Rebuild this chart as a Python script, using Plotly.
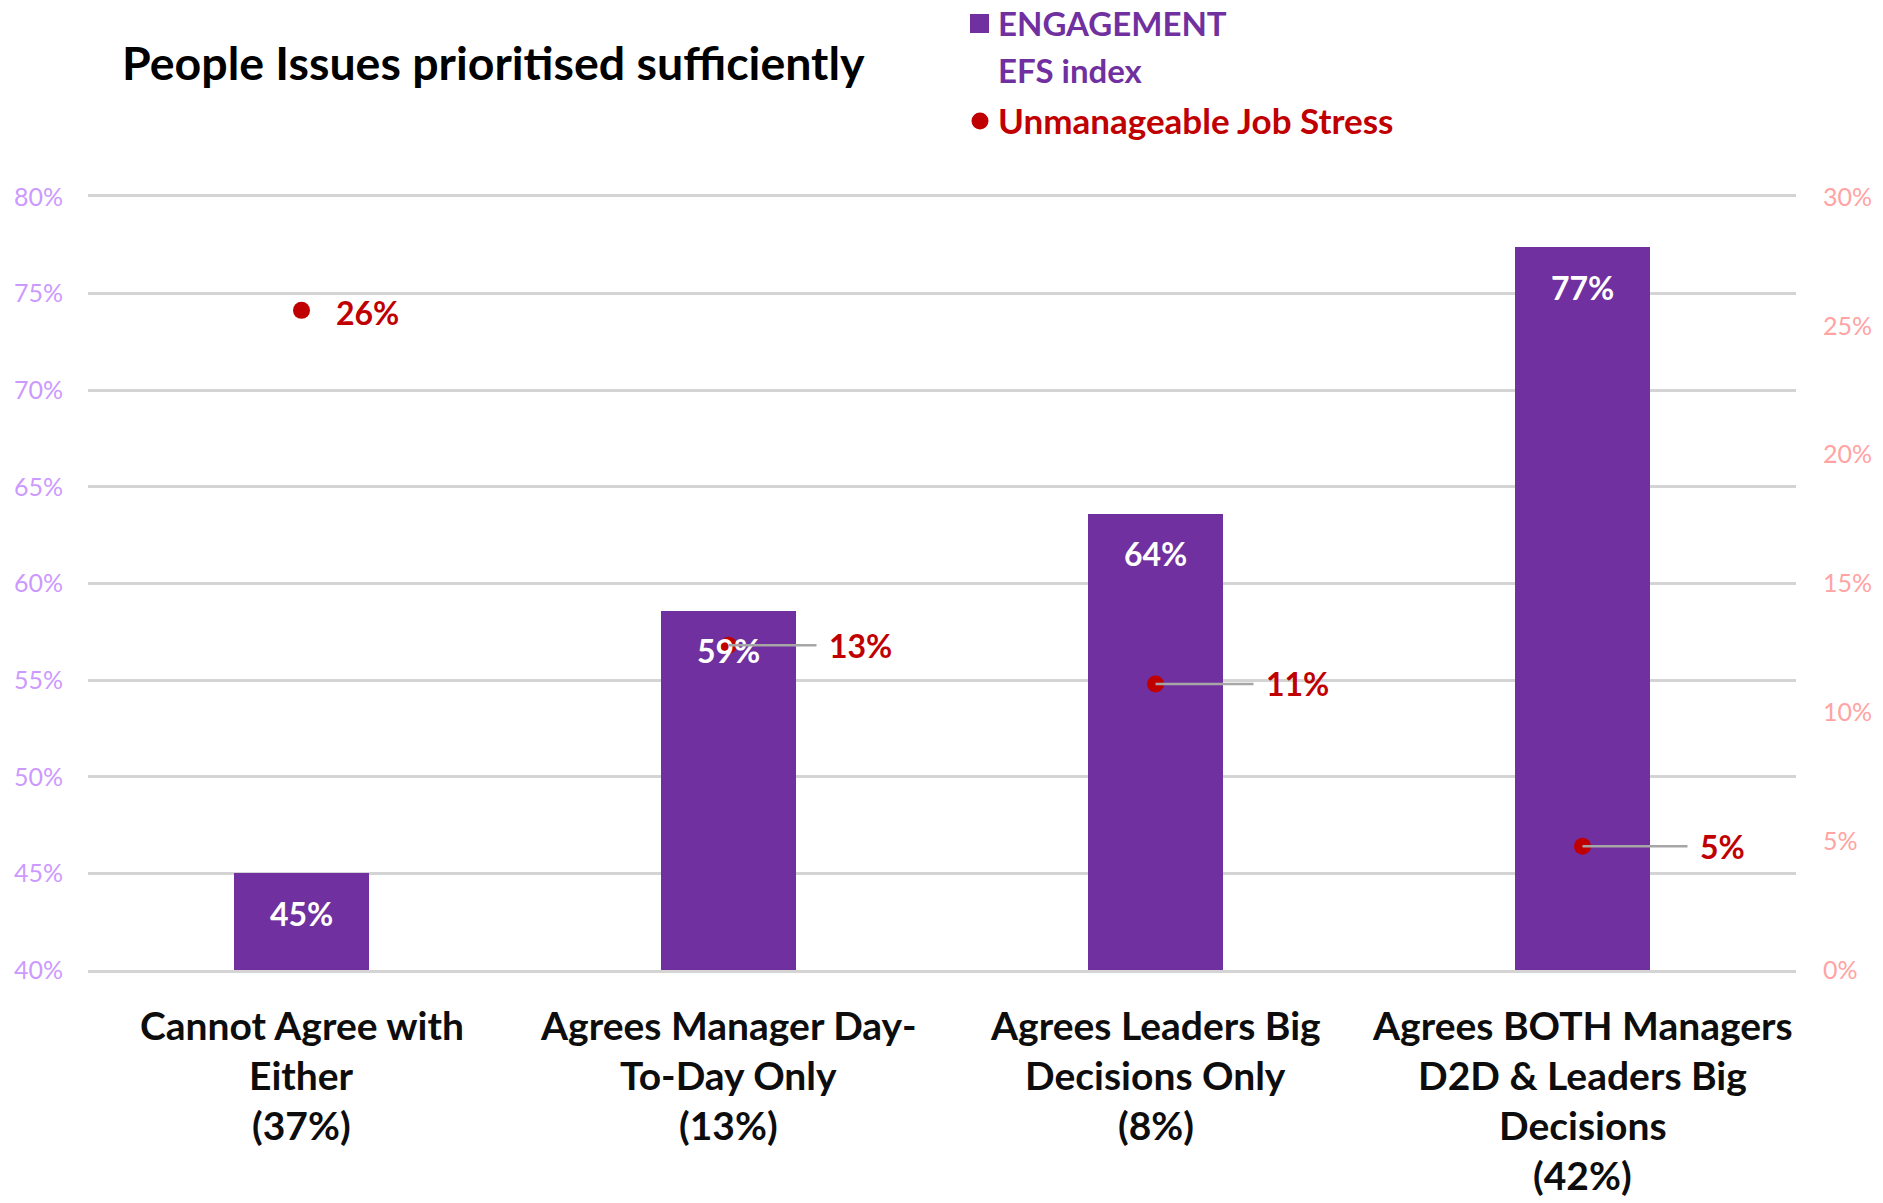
import plotly.graph_objects as go

# ---- data -------------------------------------------------------------
category_lines = [
    ["Cannot Agree with", "Either", "(37%)"],
    ["Agrees Manager Day-", "To-Day Only", "(13%)"],
    ["Agrees Leaders Big", "Decisions Only", "(8%)"],
    ["Agrees BOTH Managers", "D2D & Leaders Big", "Decisions", "(42%)"],
]
engagement_efs = [0.45, 0.586, 0.636, 0.774]          # left axis
unmanageable_stress = [0.256, 0.126, 0.111, 0.048]    # right axis

left_ticks = [0.40, 0.45, 0.50, 0.55, 0.60, 0.65, 0.70, 0.75, 0.80]
right_ticks = [0.00, 0.05, 0.10, 0.15, 0.20, 0.25, 0.30]

title_text = "People Issues prioritised sufficiently"
legend_bar_lines = ["ENGAGEMENT", "EFS index"]
legend_dot_text = "Unmanageable Job Stress"

# ---- styling ----------------------------------------------------------
W, H = 1883, 1203
PLOT_L, PLOT_R, PLOT_T, PLOT_B = 88, 1796, 197, 970
FONT = "Lato"
PURPLE = "#7030A0"
RED = "#C00000"
GRID = "#D4D4D4"
LEFT_TICK = "#CC99FF"
RIGHT_TICK = "#FFA3A3"
LEADER = "#A6A6A6"

# horizontal pixel offset of each stress label from its dot
stress_label_dx = [32, 98, 108, 115]
LEADER_MIN_DX = 60


def paper_x(px):
    return (px - PLOT_L) / (PLOT_R - PLOT_L)


def paper_y(py):
    return (PLOT_B - py) / (PLOT_B - PLOT_T)


xs = list(range(len(category_lines)))

fig = go.Figure()

fig.add_trace(go.Bar(
    x=xs, y=engagement_efs, width=0.314,
    marker=dict(color=PURPLE, line=dict(width=0)),
    yaxis="y", hoverinfo="skip", showlegend=False,
))

fig.add_trace(go.Scatter(
    x=xs, y=unmanageable_stress, mode="markers",
    marker=dict(color=RED, size=17, line=dict(width=0)),
    yaxis="y2", hoverinfo="skip", showlegend=False,
))

annotations = []

# value labels inside the bars, near the top
for x, v in zip(xs, engagement_efs):
    annotations.append(dict(
        x=x, y=v, xref="x", yref="y", text=f"{v:.0%}",
        showarrow=False, yanchor="middle", yshift=-40,
        font=dict(family=FONT, size=32, color="white", weight="bold"),
    ))

# stress labels, with a grey leader line when pulled away from the dot
for x, v, dx in zip(xs, unmanageable_stress, stress_label_dx):
    lbl = dict(
        x=x, y=v, xref="x", yref="y2", text=f"{v:.0%}",
        xanchor="left", yanchor="middle",
        font=dict(family=FONT, size=32, color=RED, weight="bold"),
    )
    if dx > LEADER_MIN_DX:
        lbl.update(showarrow=True, arrowhead=0, arrowwidth=2.5,
                   arrowcolor=LEADER, ax=dx, ay=0, axref="pixel",
                   standoff=0, startstandoff=10)
    else:
        lbl.update(showarrow=False, xshift=dx, yshift=-2)
    annotations.append(lbl)

# category labels, one annotation per line for Excel-like line spacing
for x, lines in zip(xs, category_lines):
    for j, line in enumerate(lines):
        annotations.append(dict(
            x=x, xref="x", y=paper_y(1025 + 50 * j), yref="paper",
            text=line, showarrow=False, yanchor="middle",
            font=dict(family=FONT, size=39, color="#0D0D0D", weight="bold"),
        ))

# title
annotations.append(dict(
    x=paper_x(120), y=paper_y(62), xref="paper", yref="paper",
    text=title_text, showarrow=False, xanchor="left", yanchor="middle",
    font=dict(family=FONT, size=46.5, color="black", weight="bold"),
))

# legend entries
legend_x = paper_x(996)
for j, line in enumerate(legend_bar_lines):
    annotations.append(dict(
        x=legend_x, y=paper_y(23 + 47 * j), xref="paper", yref="paper",
        text=line, showarrow=False, xanchor="left", yanchor="middle",
        font=dict(family=FONT, size=33, color=PURPLE, weight="bold"),
    ))
annotations.append(dict(
    x=legend_x, y=paper_y(120), xref="paper", yref="paper",
    text=legend_dot_text, showarrow=False, xanchor="left", yanchor="middle",
    font=dict(family=FONT, size=35, color=RED, weight="bold"),
))

shapes = [
    dict(type="rect", xref="paper", yref="paper",
         x0=paper_x(970), x1=paper_x(989), y0=paper_y(33), y1=paper_y(14),
         fillcolor=PURPLE, line=dict(width=0)),
    dict(type="circle", xref="paper", yref="paper",
         x0=paper_x(971.5), x1=paper_x(988.5), y0=paper_y(129.5), y1=paper_y(112.5),
         fillcolor=RED, line=dict(width=0)),
]

fig.update_layout(
    width=W, height=H, autosize=False,
    margin=dict(l=PLOT_L, r=W - PLOT_R, t=PLOT_T, b=H - PLOT_B, pad=0),
    paper_bgcolor="white", plot_bgcolor="white",
    showlegend=False,
    bargap=0,
    # axis line + mirror give the grid lines at the 40% and 80% edges
    xaxis=dict(range=[-0.5, len(xs) - 0.5], showticklabels=False,
               showgrid=False, zeroline=False, ticks="",
               showline=True, mirror=True, linecolor=GRID, linewidth=2.5),
    yaxis=dict(range=[0.40, 0.80], tickvals=left_ticks, tickformat=".0%",
               showgrid=True, gridcolor=GRID, gridwidth=2.5,
               zeroline=False, showline=False, ticks="",
               ticklabelstandoff=24,
               tickfont=dict(family=FONT, size=25, color=LEFT_TICK)),
    yaxis2=dict(range=[0.0, 0.30], tickvals=right_ticks, tickformat=".0%",
                overlaying="y", side="right", showgrid=False,
                zeroline=False, showline=False, ticks="",
                ticklabelstandoff=26,
                tickfont=dict(family=FONT, size=25, color=RIGHT_TICK)),
    annotations=annotations,
    shapes=shapes,
)

fig.write_html("out.html")
